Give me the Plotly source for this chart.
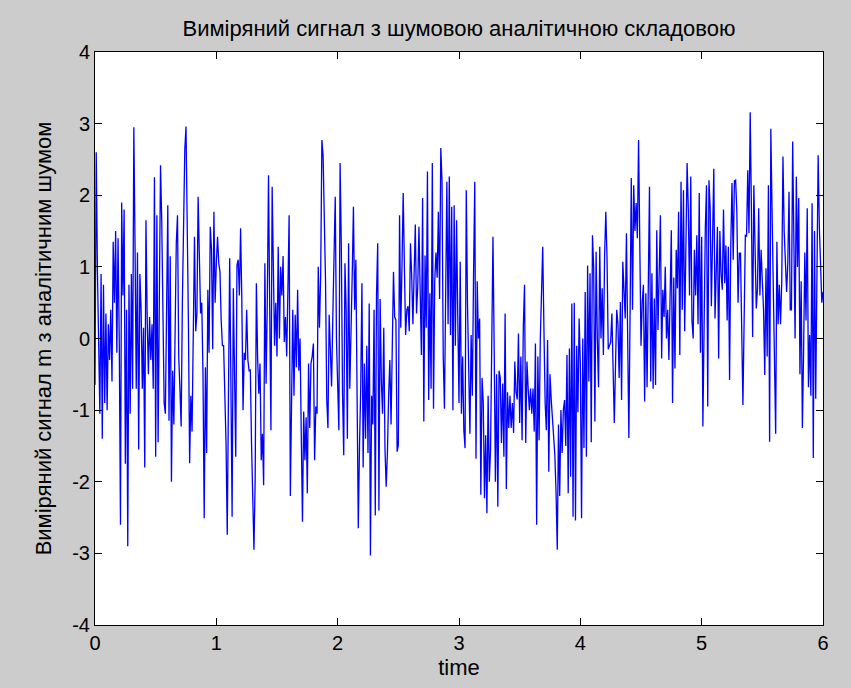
import numpy as np
import plotly.graph_objects as go

# Sampling step and measured signal samples (t = 0 ... 6 s)
dt = 0.01

m_values = [
    # 0.00 - 0.49
    -0.65, 2.6, 0.95, -0.1, -1.05, 0.9, -1.4, 0.75, -0.9, 0.35,
    -1.0, 0.2, -0.3, 0.4, -0.6, 1.35, 0.5, 1.5, -0.2, 1.4,
    -0.05, -2.6, 1.9, 0.6, 1.8, -1.75, 0.4, -2.9, 0.75, -1.05,
    0.9, -0.7, 2.95, 1.3, -0.7, 1.2, -1.55, 0.9, 0.4, -0.7,
    0.15, -1.8, 1.65, 0.3, -0.5, 0.3, -0.3, 0.2, -0.7, 2.25,
    # 0.50 - 0.99
    -1.65, 1.72, -1.45, 0.5, 2.42, 1.65, 0.4, -0.9, -1.05, 0.45,
    1.86, -1.15, 1.15, -2.0, -0.45, -1.2, 0.5, 1.33, 1.72, -0.25,
    -0.7, -1.23, 0.5, 1.45, 2.63, 2.96, 1.7, 0.2, -1.74, -0.8,
    -1.3, 0.4, 1.42, 0.1, 0.35, 1.98, 1.35, 0.35, 0.5, -0.5,
    -2.51, -0.4, -1.6, 0.68, -0.2, 1.56, 1.25, -0.15, 1.77, 0.5,
    # 1.00 - 1.48
    1.05, 1.42, 1.05, 0.93, 0.25, -0.1, -0.1, -0.77, -1.46, -2.74,
    -0.65, 1.12, -0.6, -2.49, 0.7, -0.9, -1.65, 1.02, 1.1, 0.6,
    1.54, 0.55, -1.0, -0.2, -0.3, 0.4, -0.3, -0.45, -0.44, -1.46,
    -2.49, -2.95, -1.98, 0.77, -0.25, -0.77, -0.35, -1.7, -1.33, -2.05,
    1.05, -0.63, 0.5, 2.28, 0.42, -1.28, 2.12, 1.05, -0.1,
    # 1.49 - 1.99
    0.5, -0.25, 1.28, 0.0, 1.0, 0.6, 1.15, -0.05, 0.3, -0.25,
    0.7, 1.72, -2.2, -1.19, 0.4, -0.8, 0.33, -0.4, 0.68, -0.45,
    0.0, -1.35, -2.56, -1.02, -1.7, -1.1, -2.16, -0.35, -1.25, -0.35,
    -0.25, -0.07, -1.7, -0.95, -1.05, 1.0, 0.15, 0.9, 2.77, 2.55,
    1.7, 0.8, -0.85, -1.25, 0.33, -0.3, -0.67, 0.3, 1.05, 1.98,
    0.0,
    # 2.00 - 2.47
    -0.5, -1.28, 2.45, 1.3, -0.75, -1.63, 1.05, 0.4, -1.4, 1.33,
    -0.7, 0.0, 0.9, 1.84, 0.4, 1.1, -0.6, -2.65, -1.5, -0.7,
    0.77, -1.8, -0.35, -1.4, -0.1, -1.6, 0.49, -3.03, -0.8, -1.2,
    0.4, -2.47, 0.6, 1.33, -2.4, 0.55, -0.6, -1.05, 0.15, -1.55,
    -2.07, -1.6, -0.8, -0.3, -1.2, 0.05, 0.93, 0.3,
    # 2.48 - 2.97
    0.26, -1.58, -1.49, 1.72, 0.15, 1.0, 2.03, 1.0, 0.05, 0.4,
    0.45, 0.1, 1.33, 0.88, 0.2, 0.9, 1.59, 0.35, 0.73, 1.56,
    0.35, -0.23, 1.96, -1.16, 1.16, 0.15, 2.33, -0.86, 0.63, -0.7,
    2.45, -0.98, 0.8, 1.2, 0.85, 1.77, 0.55, 2.66, 2.2, -0.25,
    -0.98, 1.05, 2.19, 0.2, 2.26, 0.05, 1.84, -1.0, 1.86, -0.1,
    # 2.98 - 3.46
    1.65, 0.3, -0.9, 1.07, -1.05, -0.25, -1.28, -1.53, 2.07, 0.5,
    -0.65, -1.33, 0.05, -0.8, 0.91, 2.19, -1.68, 0.8, 0.0, 0.28,
    -2.18, -0.55, -0.9, -2.23, -1.35, -2.44, -0.8, -2.0, -1.55, 0.17,
    1.42, -0.15, -2.0, -0.5, -2.35, -0.45, -0.55, -1.46, -0.63, -1.65,
    0.35, -2.1, -0.75, -1.25, -0.8, -1.25, -0.9, -1.32, -0.32,
    # 3.47 - 3.95
    -0.75, -0.85, 0.07, -1.18, -0.25, -1.42, 0.16, 0.75, -1.46, -0.32,
    -0.7, -1.0, -0.7, -1.05, -0.7, -1.3, -0.07, -2.6, -0.25, -1.42,
    -0.02, 0.72, 1.28, 0.14, -0.9, -1.28, -0.02, -1.86, -0.5, -0.85,
    -1.1, -1.42, -1.63, -2.16, -2.95, -1.2, -2.2, -1.0, -1.6, -1.0,
    -0.86, -1.5, -0.23, -2.16, -0.14, -1.93, 0.49, -2.49, 0.5,
    # 3.96 - 4.45
    -2.54, -0.1, -1.03, 0.28, -0.35, -2.51, 0.0, -1.53, 0.65, -1.65,
    1.02, -0.6, 0.91, -1.45, 1.44, 1.0, -1.16, 1.21, 0.0, -0.68,
    1.28, 0.0, 0.7, -0.23, 1.15, 1.77, 1.12, -0.15, -0.1, -0.05,
    0.35, -0.5, -1.18, -0.37, 0.4, 0.2, -0.55, 0.51, -0.86, 1.07,
    0.65, 0.28, 1.47, -0.28, -1.39, 0.35, 2.24, 0.4, 2.14, 1.5,
    # 4.46 - 4.92
    1.89, 1.4, 2.77, 1.33, -0.1, 0.5, 0.75, -0.88, 0.63, -0.68,
    0.72, 2.12, -0.6, 0.91, -0.7, 0.56, -0.65, 1.51, 0.12, 0.91,
    1.72, -0.28, 0.68, 0.3, 1.0, 0.0, 0.4, -0.3, 0.6, 1.51,
    -0.9, 0.85, -0.42, 1.24, 0.7, 1.77, -0.23, 2.19, 0.4, 2.07,
    0.1, 1.0, 2.45, 1.8, 0.6, 2.26, 0.25,
    # 4.93 - 5.44
    0.0, 1.24, 0.6, 1.44, 0.2, 2.03, -0.2, 1.42, -1.23, 0.72,
    1.54, 2.14, -0.95, 2.21, 1.82, 0.45, 1.35, 2.37, 0.28, 1.05,
    1.56, -0.28, 1.5, 0.9, 0.68, 1.8, 0.77, 1.3, 0.25, 1.28,
    -0.58, 1.3, 2.17, 1.1, 2.2, 2.21, 1.77, 0.5, 1.19, 1.19,
    0.12, -0.93, 0.25, 1.44, 1.43, 2.35, 1.47, 3.16, 1.82, 0.02,
    2.14, 1.1,
    # 5.45 - 6.00
    0.42, 0.7, 1.82, 0.6, 1.24, 0.8, 0.4, -0.51, 0.98, -0.25,
    2.14, -1.44, 2.93, 1.8, 0.7, -0.07, -1.33, 1.35, 0.2, 0.75,
    0.2, 0.79, 2.54, 1.5, 0.95, 0.65, 1.05, 2.05, 0.4, 0.4,
    2.75, 1.0, 0.0, 2.26, 1.0, 1.96, -0.5, 0.8, -1.25, -0.2,
    1.2, 0.25, 1.82, -0.68, 0.05, -0.8, 1.89, -1.67, 1.5, -0.84,
    1.51, 2.56, 1.55, 0.91, 0.5, 0.65,
]

time = np.arange(len(m_values)) * dt

x_ticks = [0, 1, 2, 3, 4, 5, 6]
y_ticks = [-4, -3, -2, -1, 0, 1, 2, 3, 4]

title_text = "Виміряний сигнал з шумовою аналітичною складовою"
x_label = "time"
y_label = "Виміряний сигнал m з аналітичним шумом"

font_family = "Liberation Sans, Arial, sans-serif"

fig = go.Figure()
fig.add_trace(
    go.Scatter(
        x=time,
        y=m_values,
        mode="lines",
        line=dict(color="#0000ff", width=1.3),
        hoverinfo="skip",
        showlegend=False,
    )
)

axis_common = dict(
    showgrid=False,
    zeroline=False,
    showline=True,
    linecolor="black",
    linewidth=1,
    mirror="ticks",
    ticks="inside",
    ticklen=7,
    tickcolor="black",
    tickwidth=1,
    tickfont=dict(family=font_family, size=20, color="black"),
)

fig.update_xaxes(
    range=[time[0], 6],
    tickvals=x_ticks,
    ticktext=[str(v) for v in x_ticks],
    title=dict(text=x_label, font=dict(family=font_family, size=22, color="black"), standoff=6),
    **axis_common,
)
fig.update_yaxes(
    range=[-4, 4],
    tickvals=y_ticks,
    ticktext=[str(v) for v in y_ticks],
    title=dict(text=y_label, font=dict(family=font_family, size=22, color="black"), standoff=14),
    **axis_common,
)

fig.update_layout(
    width=851,
    height=688,
    margin=dict(l=95, r=28, t=52, b=63),
    paper_bgcolor="#cccccc",
    plot_bgcolor="white",
    title=dict(
        text=title_text,
        x=(95 + 823) / 2 / 851,
        xanchor="center",
        y=1 - 28 / 688,
        yanchor="middle",
        font=dict(family=font_family, size=22, color="black"),
    ),
)

fig.write_html("out.html")
